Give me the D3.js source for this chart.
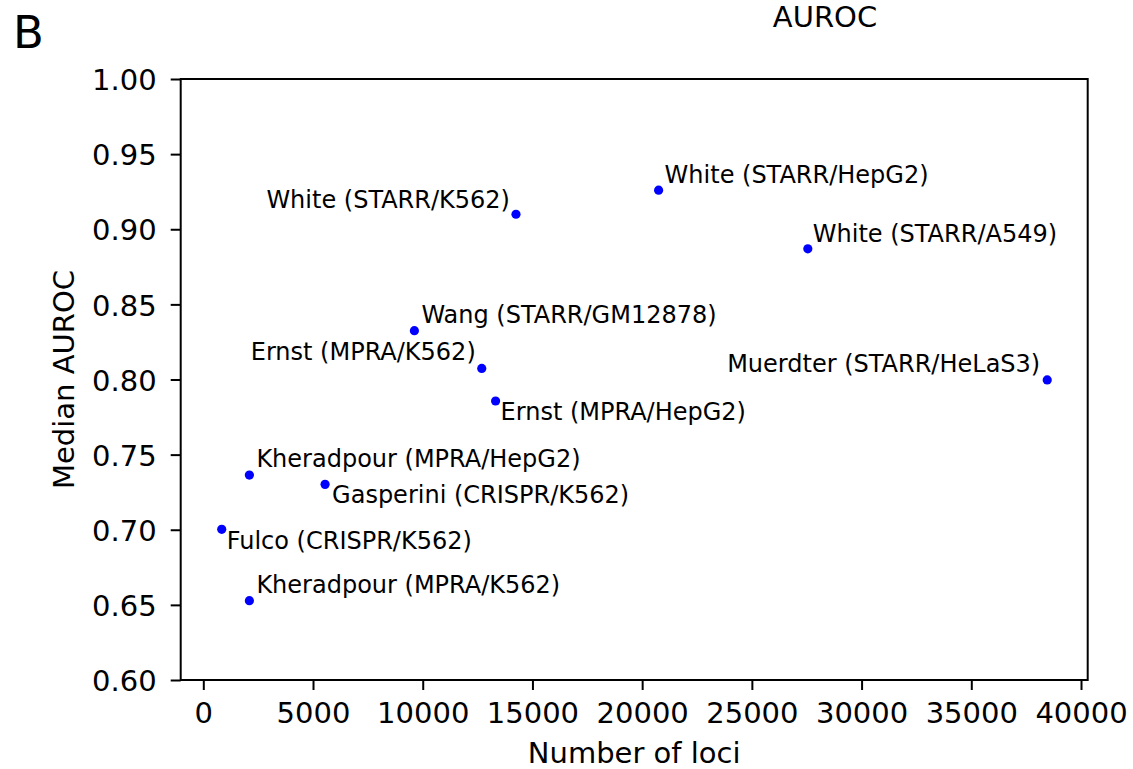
<!DOCTYPE html>
<html>
<head>
<meta charset="utf-8">
<script src="https://cdn.jsdelivr.net/npm/d3@7"></script>
<style>
  html, body { margin: 0; padding: 0; background: #fff; }
  svg { display: block; font-family: "DejaVu Sans", sans-serif; }
</style>
</head>
<body>
<svg id="chart" width="1133" height="769"></svg>
<script>
// ---- data ----
const labels = [
  "White (STARR/K562)",
  "White (STARR/HepG2)",
  "White (STARR/A549)",
  "Wang (STARR/GM12878)",
  "Ernst (MPRA/K562)",
  "Ernst (MPRA/HepG2)",
  "Muerdter (STARR/HeLaS3)",
  "Kheradpour (MPRA/HepG2)",
  "Gasperini (CRISPR/K562)",
  "Fulco (CRISPR/K562)",
  "Kheradpour (MPRA/K562)"
];
const numLoci = [14250, 20750, 27550, 9620, 12690, 13320, 38460, 2100, 5550, 840, 2100];
const medianAUROC = [0.910, 0.926, 0.887, 0.8325, 0.8074, 0.7857, 0.7997, 0.7364, 0.7302, 0.7003, 0.6528];
const xTicks = [0, 5000, 10000, 15000, 20000, 25000, 30000, 35000, 40000];
const yTicks = [0.60, 0.65, 0.70, 0.75, 0.80, 0.85, 0.90, 0.95, 1.00];

// label placement (layout only): [dx, dy, anchor]
const labelPlacement = [
  [-6, -6, "end"],
  [6, -7, "start"],
  [5, -7, "start"],
  [7, -8, "start"],
  [-6, -8, "end"],
  [5, 19, "start"],
  [-7, -8, "end"],
  [7, -8, "start"],
  [7, 19, "start"],
  [5, 20, "start"],
  [7, -8, "start"]
];

// ---- layout ----
const svg = d3.select("#chart");
const L = 180.7, R = 1087.7, T = 79, B = 680;
const x = d3.scaleLinear().domain([-1030, 40305]).range([L, R]);
const y = d3.scaleLinear().domain([0.6, 1.0]).range([B, T]);
const tickFont = 29;
const annFont = 24;

// axes
const xAxis = d3.axisBottom(x).tickValues(xTicks).tickFormat(d3.format("d")).tickSize(10).tickPadding(6);
const yAxis = d3.axisLeft(y).tickValues(yTicks).tickFormat(d3.format(".2f")).tickSize(10).tickPadding(4);

const gx = svg.append("g").attr("transform", `translate(0,${B})`).call(xAxis);
const gy = svg.append("g").attr("transform", `translate(${L},0)`).call(yAxis);
[gx, gy].forEach(g => {
  g.select(".domain").remove();
  g.selectAll(".tick line").attr("stroke", "#000").attr("stroke-width", 2);
  g.selectAll(".tick text").attr("fill", "#000").attr("font-size", tickFont).attr("font-family", "DejaVu Sans");
});
gx.selectAll(".tick text").attr("dy", null).attr("y", 43);
gy.selectAll(".tick text").attr("dy", null).attr("x", -24).attr("y", 10.7);

// frame
svg.append("rect").attr("x", L).attr("y", T).attr("width", R - L).attr("height", B - T)
  .attr("fill", "none").attr("stroke", "#000").attr("stroke-width", 2);

// points
const data = labels.map((name, i) => ({ name, n: numLoci[i], v: medianAUROC[i], p: labelPlacement[i] }));
svg.append("g").selectAll("circle").data(data).join("circle")
  .attr("cx", d => x(d.n)).attr("cy", d => y(d.v)).attr("r", 4.6).attr("fill", "#0000ff");

svg.append("g").selectAll("text").data(data).join("text")
  .attr("x", d => x(d.n) + d.p[0]).attr("y", d => y(d.v) + d.p[1])
  .attr("text-anchor", d => d.p[2]).attr("font-size", annFont).attr("fill", "#000")
  .text(d => d.name);

// axis labels
svg.append("text").attr("x", (L + R) / 2).attr("y", 763).attr("text-anchor", "middle")
  .attr("font-size", tickFont).text("Number of loci");
svg.append("text").attr("transform", `translate(74,${(T + B) / 2}) rotate(-90)`).attr("text-anchor", "middle")
  .attr("font-size", tickFont).text("Median AUROC");

// titles
svg.append("text").attr("x", 825).attr("y", 27).attr("text-anchor", "middle")
  .attr("font-size", tickFont).text("AUROC");
svg.append("text").attr("x", 13).attr("y", 48).attr("font-size", 45).text("B");
</script>
</body>
</html>
